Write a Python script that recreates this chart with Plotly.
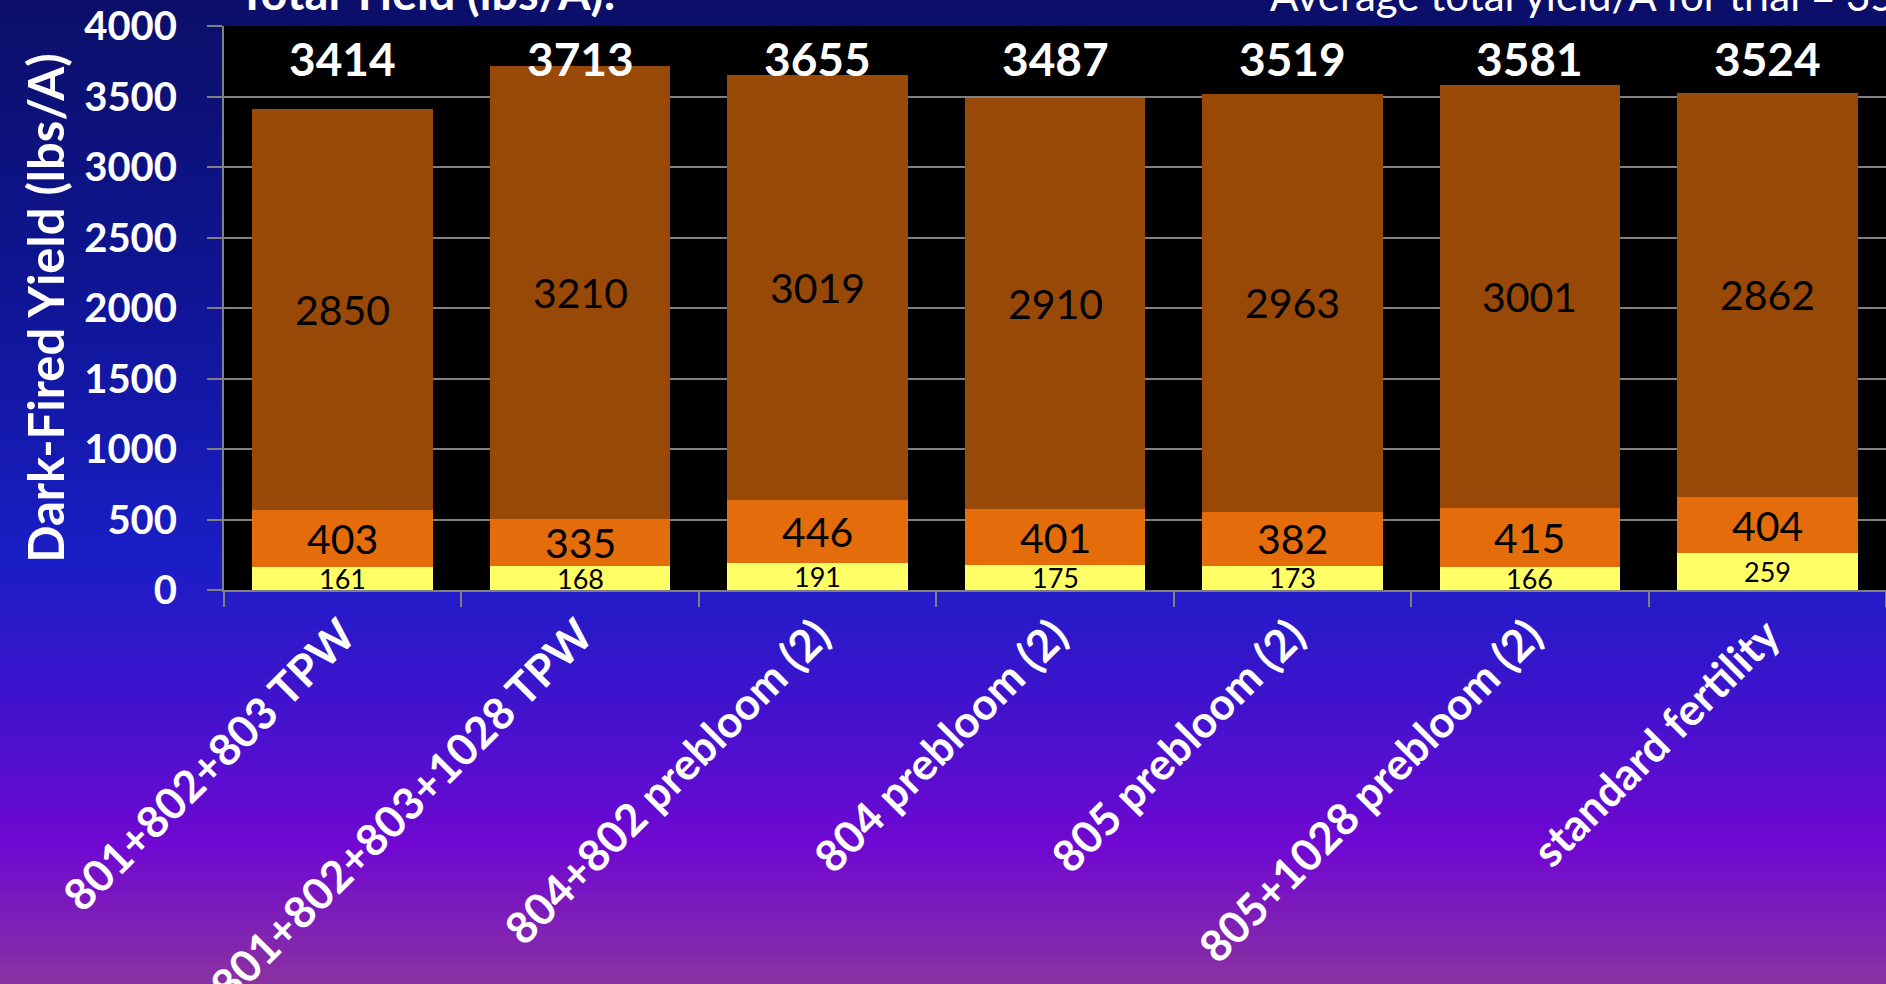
import plotly.graph_objects as go

categories = ["801+802+803 TPW", "801+802+803+1028 TPW", "804+802 prebloom (2)",
              "804 prebloom (2)", "805 prebloom (2)", "805+1028 prebloom (2)",
              "standard fertility"]
bottom_vals = [161, 168, 191, 175, 173, 166, 259]
middle_vals = [403, 335, 446, 401, 382, 415, 404]
top_vals = [2850, 3210, 3019, 2910, 2963, 3001, 2862]
totals = [3414, 3713, 3655, 3487, 3519, 3581, 3524]
y_ticks = [0, 500, 1000, 1500, 2000, 2500, 3000, 3500, 4000]

W, H = 1886, 984
ML, MR, MT, MB = 224, 0, 26, 394
FONT = "Lato"

fig = go.Figure()
fig.add_trace(go.Bar(x=categories, y=bottom_vals, marker=dict(color="#ffff66", line=dict(width=0)), name="bottom"))
fig.add_trace(go.Bar(x=categories, y=middle_vals, marker=dict(color="#e46c0a", line=dict(width=0)), name="middle"))
fig.add_trace(go.Bar(x=categories, y=top_vals, marker=dict(color="#984807", line=dict(width=0)), name="top"))

# background gradient strips (paper coordinates extended beyond plot area)
stops = [(0.0, (11, 15, 104)), (0.30, (15, 21, 148)), (0.57, (26, 30, 198)),
         (0.70, (60, 20, 204)), (0.86, (112, 8, 210)), (1.0, (138, 50, 160))]

def col_at(t):
    for i in range(len(stops) - 1):
        t0, c0 = stops[i]
        t1, c1 = stops[i + 1]
        if t0 <= t <= t1:
            f = (t - t0) / (t1 - t0)
            return "rgb(%d,%d,%d)" % tuple(round(c0[k] + (c1[k] - c0[k]) * f) for k in range(3))
    return "rgb(%d,%d,%d)" % stops[-1][1]

ph = H - MT - MB
pw = W - ML - MR
def py(page_y):
    return (H - MB - page_y) / ph
x_left = -ML / pw
x_right = 1 + MR / pw + 0.01
shapes = []
N = 140
for i in range(N):
    y0p = H * i / N
    y1p = H * (i + 1) / N + 1
    shapes.append(dict(type="rect", xref="paper", yref="paper", x0=x_left - 0.01, x1=x_right,
                       y0=py(y1p), y1=py(y0p), fillcolor=col_at((i + 0.5) / N),
                       line=dict(width=0), layer="below"))
shapes.append(dict(type="rect", xref="paper", yref="paper", x0=0, x1=1, y0=0, y1=1,
                   fillcolor="black", line=dict(width=0), layer="below"))

annotations = []
for i, c in enumerate(categories):
    b, m, t = bottom_vals[i], middle_vals[i], top_vals[i]
    annotations.append(dict(x=c, y=b / 2, text=str(b), showarrow=False,
                            font=dict(family=FONT, size=27, color="black")))
    annotations.append(dict(x=c, y=b + m / 2, text=str(m), showarrow=False,
                            font=dict(family=FONT, size=41, color="black")))
    annotations.append(dict(x=c, y=b + m + t / 2, text=str(t), showarrow=False,
                            font=dict(family=FONT, size=41, color="black")))
    annotations.append(dict(x=c, y=3773, text="<b>%d</b>" % totals[i], showarrow=False,
                            font=dict(family=FONT, size=46, color="white")))

annotations.append(dict(xref="paper", yref="paper", x=(236 - ML) / pw, y=py(22),
                        xanchor="left", yanchor="bottom", showarrow=False,
                        text="<b>Total Yield (lbs/A):</b>",
                        font=dict(family=FONT, size=47, color="white")))
annotations.append(dict(xref="paper", yref="paper", x=(1268 - ML) / pw, y=py(22),
                        xanchor="left", yanchor="bottom", showarrow=False,
                        text="Average total yield/A for trial = 3556",
                        font=dict(family=FONT, size=42, color="white")))

fig.update_layout(
    width=W, height=H,
    margin=dict(l=ML, r=MR, t=MT, b=MB, autoexpand=False),
    barmode="stack", bargap=0.24,
    showlegend=False,
    paper_bgcolor="#0b0f68", plot_bgcolor="black",
    shapes=shapes, annotations=annotations,
    font=dict(family=FONT, color="white"),
)
fig.update_yaxes(
    range=[0, 4000], tickvals=y_ticks, ticktext=["<b>%d</b>" % v for v in y_ticks],
    showgrid=True, gridcolor="#808080", gridwidth=2,
    showline=True, linecolor="#808080", linewidth=2,
    ticks="outside", ticklen=15, tickcolor="#808080", tickwidth=2,
    ticklabelstandoff=22,
    tickfont=dict(family=FONT, size=40, color="white"), zeroline=False,
    title=dict(text="<b>Dark-Fired Yield (lbs/A)</b>", standoff=4,
               font=dict(family=FONT, size=49, color="white")),
)
fig.update_xaxes(
    tickangle=-45, ticks="outside", tickson="boundaries", ticklen=15,
    tickcolor="#808080", tickwidth=2, showline=True, linecolor="#808080", linewidth=2,
    tickfont=dict(family=FONT, size=44, color="white"),
    ticktext=["<b>%s</b>" % c for c in categories], tickvals=categories,
)

fig.write_html("out.html", config={"displayModeBar": False},
               post_script="document.body.style.margin='0';document.body.style.overflow='hidden';")
